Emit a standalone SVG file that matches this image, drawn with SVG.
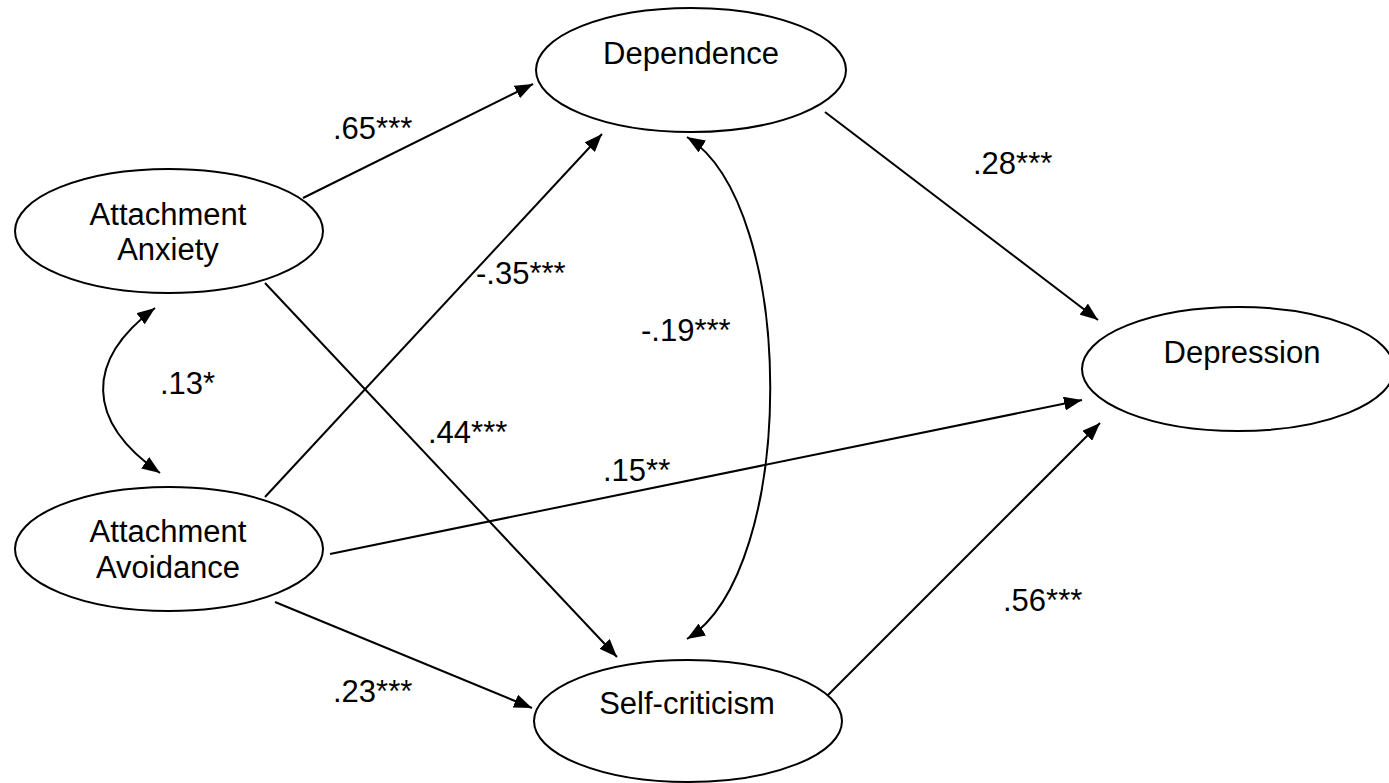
<svg xmlns="http://www.w3.org/2000/svg" width="1389" height="783" viewBox="0 0 1389 783">
<style>
.node ellipse{fill:#fff;stroke:#000;stroke-width:2}
text{font-family:"Liberation Sans",Arial,sans-serif;font-size:31px;fill:#000}
.node text{text-anchor:middle}
.edge{fill:none;stroke:#000;stroke-width:2;marker-end:url(#ah)}
.both{marker-start:url(#ah)}
</style>
<defs>
<marker id="ah" markerUnits="userSpaceOnUse" markerWidth="18" markerHeight="14" refX="18" refY="7" orient="auto-start-reverse">
<path d="M0,0 L18,7 L0,14 z" fill="#000"/>
</marker>
</defs>
<rect width="1389" height="783" fill="#fff"/>
<g id="connectors">
<line class="edge" x1="303" y1="198" x2="533" y2="84"/>
<line class="edge" x1="265" y1="497" x2="602" y2="134"/>
<line class="edge" x1="265" y1="283" x2="617" y2="657"/>
<line class="edge" x1="275" y1="602" x2="532" y2="708"/>
<line class="edge" x1="330" y1="554" x2="1082" y2="400"/>
<line class="edge" x1="825" y1="112" x2="1098" y2="320"/>
<line class="edge" x1="827" y1="696" x2="1100" y2="423"/>
<path class="edge both" d="M155,308 C85,360 85,421 160,473"/>
<path class="edge both" d="M687,137 C798,206 798,570 687,639"/>
</g>
<g id="labels">
<text x="333" y="139">.65***</text>
<text x="973" y="174">.28***</text>
<text x="476" y="284">-.35***</text>
<text x="641" y="341">-.19***</text>
<text x="160" y="394">.13*</text>
<text x="428" y="443">.44***</text>
<text x="603" y="481">.15**</text>
<text x="1003" y="611">.56***</text>
<text x="333" y="702">.23***</text>
</g>
<g id="dependence" class="node"><ellipse cx="691" cy="70" rx="155" ry="62"/><text x="691" y="64">Dependence</text></g>
<g id="anxiety" class="node"><ellipse cx="169" cy="231" rx="154" ry="62"/><text x="168" y="225">Attachment</text><text x="168" y="260">Anxiety</text></g>
<g id="avoidance" class="node"><ellipse cx="169" cy="549" rx="154" ry="62"/><text x="168" y="542">Attachment</text><text x="168" y="578">Avoidance</text></g>
<g id="depression" class="node"><ellipse cx="1238" cy="369" rx="156" ry="62"/><text x="1242" y="363">Depression</text></g>
<g id="selfcriticism" class="node"><ellipse cx="688" cy="721" rx="154" ry="61"/><text x="687" y="714">Self-criticism</text></g>
</svg>
